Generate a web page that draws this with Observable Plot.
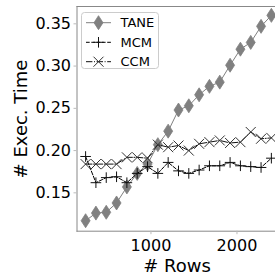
<!DOCTYPE html>
<html>
<head>
<meta charset="utf-8">
<script src="https://cdn.jsdelivr.net/npm/d3@7"></script>
<script src="https://cdn.jsdelivr.net/npm/@observablehq/plot@0.6"></script>
<style>
html, body { margin: 0; padding: 0; background: white; overflow: hidden; }
</style>
</head>
<body>
<div id="chart"></div>
<script>
const rows = [240, 360, 480, 600, 720, 840, 960, 1080, 1200, 1320, 1440, 1560, 1680, 1800, 1920, 2040, 2160, 2280, 2400];
const tane = [0.117, 0.126, 0.127, 0.138, 0.157, 0.173, 0.184, 0.207, 0.223, 0.248, 0.253, 0.266, 0.276, 0.281, 0.301, 0.320, 0.328, 0.347, 0.360];
const mcm  = [0.193, 0.162, 0.168, 0.169, 0.162, 0.173, 0.181, 0.173, 0.186, 0.176, 0.173, 0.177, 0.182, 0.182, 0.186, 0.182, 0.181, 0.180, 0.191];
const ccm  = [0.184, 0.184, 0.184, 0.184, 0.192, 0.192, 0.191, 0.207, 0.204, 0.206, 0.200, 0.208, 0.210, 0.212, 0.209, 0.210, 0.222, 0.214, 0.215];
const seriesNames = ["TANE", "MCM", "CCM"];
const xTicks = [1000, 2000];
const yTicks = [0.15, 0.20, 0.25, 0.30, 0.35];

const mk = vals => rows.map((r, i) => ({rows: r, t: vals[i]}));
const dTane = mk(tane), dMcm = mk(mcm), dCcm = mk(ccm);

const thinDiamond = {draw(c) { c.moveTo(0, -7); c.lineTo(4.5, 0); c.lineTo(0, 7); c.lineTo(-4.5, 0); c.closePath(); }};
const plusSym = {draw(c) { const a = 5.3; c.moveTo(-a, 0); c.lineTo(a, 0); c.moveTo(0, -a); c.lineTo(0, a); }};
const timesSym = {draw(c) { const a = 5; c.moveTo(-a, -a); c.lineTo(a, a); c.moveTo(-a, a); c.lineTo(a, -a); }};

const styles = [
  {color: "#808080", dash: null, sym: thinDiamond, fill: "#808080", mstroke: "#808080"},
  {color: "#000000", dash: "3.7,1.6", sym: plusSym, fill: "none", mstroke: "#111"},
  {color: "#111111", dash: "6.4,1.6,1,1.6", sym: timesSym, fill: "none", mstroke: "#333"}
];

const chart = Plot.plot({
  width: 275,
  height: 276,
  marginLeft: 76.5,
  marginTop: 6,
  marginBottom: 45.3,
  marginRight: 0,
  style: {fontFamily: "DejaVu Sans", fontSize: "16px", background: "white", color: "black"},
  x: {domain: [140, 2448]},
  y: {domain: [0.1046, 0.3705]},
  marks: [
    Plot.frame({anchor: "left", stroke: "#888", strokeOpacity: 1}),
    Plot.frame({anchor: "top", stroke: "#888", strokeOpacity: 1}),
    Plot.frame({anchor: "bottom", stroke: "#888", strokeOpacity: 1}),
    Plot.axisX({ticks: xTicks, tickSize: 3.5, tickPadding: 5, stroke: "#bbb", label: null, fill: "black", tickFormat: d => String(d)}),
    Plot.axisY({ticks: yTicks, tickSize: 3, tickPadding: 3, stroke: "#bbb", label: null, fill: "black", tickFormat: d3.format(".2f")}),
    Plot.line(dTane, {x: "rows", y: "t", stroke: styles[0].color, strokeWidth: 1}),
    Plot.dot(dTane, {x: "rows", y: "t", symbol: thinDiamond, fill: styles[0].fill, stroke: styles[0].mstroke, strokeWidth: 0.8, r: 4}),
    Plot.line(dMcm, {x: "rows", y: "t", stroke: styles[1].color, strokeWidth: 1, strokeDasharray: styles[1].dash}),
    Plot.dot(dMcm, {x: "rows", y: "t", symbol: plusSym, fill: "none", stroke: styles[1].mstroke, strokeWidth: 1, r: 4}),
    Plot.line(dCcm, {x: "rows", y: "t", stroke: styles[2].color, strokeWidth: 1, strokeDasharray: styles[2].dash}),
    Plot.dot(dCcm, {x: "rows", y: "t", symbol: timesSym, fill: "none", stroke: styles[2].mstroke, strokeWidth: 1, r: 4})
  ]
});

const svg = d3.select(chart);
// axis labels
svg.append("text").attr("x", 177).attr("y", 271.5).attr("text-anchor", "middle")
  .attr("font-family", "DejaVu Sans").attr("font-size", 18).attr("fill", "black").text("# Rows");
svg.append("text").attr("transform", "translate(27,119) rotate(-90)").attr("text-anchor", "middle")
  .attr("font-family", "DejaVu Sans").attr("font-size", 18).attr("fill", "black").text("# Exec. Time");

// legend
const lg = svg.append("g");
lg.append("rect").attr("x", 81.5).attr("y", 12.5).attr("width", 77).attr("height", 56).attr("rx", 3)
  .attr("fill", "white").attr("fill-opacity", 0.8).attr("stroke", "#ccc").attr("stroke-width", 1);
const rowY = [22.7, 42.3, 61.7];
seriesNames.forEach((name, i) => {
  const s = styles[i];
  const y = rowY[i];
  lg.append("line").attr("x1", 86).attr("x2", 111).attr("y1", y).attr("y2", y)
    .attr("stroke", s.color).attr("stroke-width", 1).attr("stroke-dasharray", s.dash);
  const p = d3.path(); s.sym.draw(p);
  lg.append("path").attr("d", p.toString()).attr("transform", `translate(98.5,${y})`)
    .attr("fill", s.fill).attr("stroke", s.mstroke).attr("stroke-width", i === 0 ? 0.8 : 1);
  lg.append("text").attr("x", 120.5).attr("y", y).attr("dy", "0.36em").attr("text-anchor", "start")
    .attr("font-family", "DejaVu Sans").attr("font-size", 13).attr("fill", "black").text(name);
});

document.getElementById("chart").appendChild(chart);
</script>
</body>
</html>
